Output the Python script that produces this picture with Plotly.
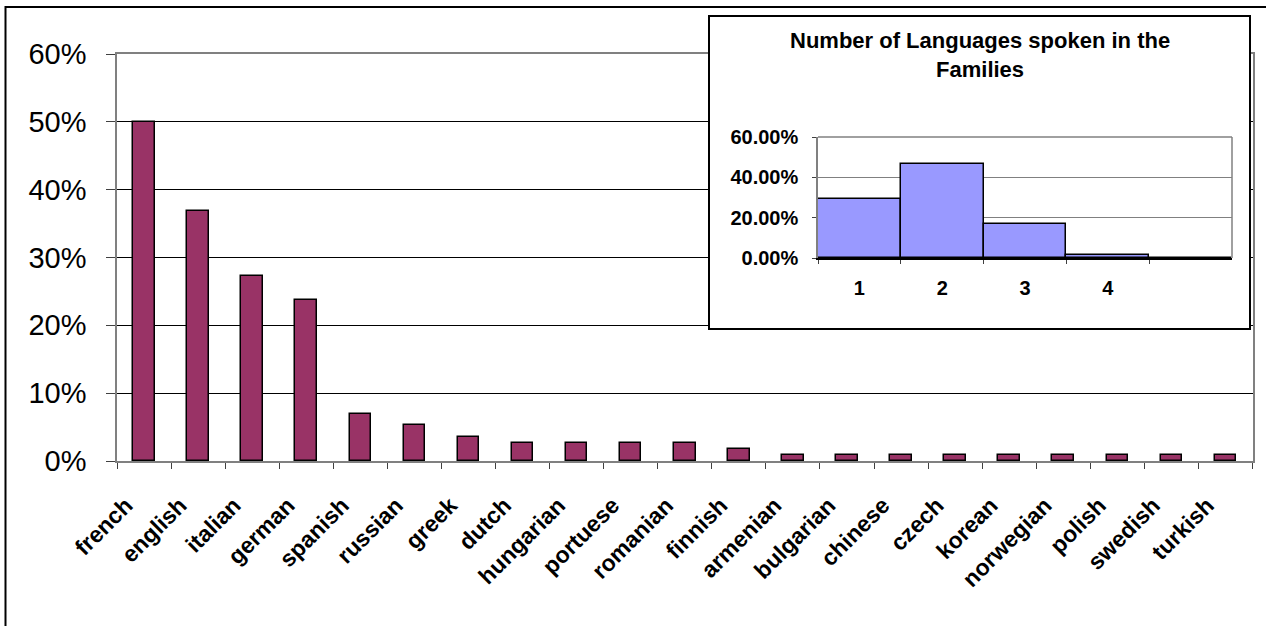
import plotly.graph_objects as go

# ---- main chart data ----
languages = ["french", "english", "italian", "german", "spanish", "russian", "greek",
             "dutch", "hungarian", "portuese", "romanian", "finnish", "armenian",
             "bulgarian", "chinese", "czech", "korean", "norwegian", "polish",
             "swedish", "turkish"]
shares = [0.500, 0.368, 0.272, 0.237, 0.070, 0.053, 0.035, 0.026, 0.026, 0.026,
          0.026, 0.018, 0.009, 0.009, 0.009, 0.009, 0.009, 0.009, 0.009, 0.009, 0.009]
main_yticks = [0, 0.1, 0.2, 0.3, 0.4, 0.5, 0.6]

# ---- inset chart data ----
inset_title = "Number of Languages spoken in the<br>Families"
n_languages = ["1", "2", "3", "4", "5"]
n_labels = ["1", "2", "3", "4", ""]
n_shares = [0.293, 0.466, 0.170, 0.017, 0.0]
inset_yticks = [0, 0.2, 0.4, 0.6]

W, H = 1266, 626
def px(x):
    return x / W
def py(y):
    return 1 - y / H

FONT = "Liberation Sans, Arial, sans-serif"
PAD = "\u00a0" * 4  # shifts rotated labels down-left like the original

fig = go.Figure()

fig.add_trace(go.Bar(
    x=languages, y=shares, width=0.4,
    marker=dict(color="#993366", line=dict(color="black", width=1.5)),
    xaxis="x", yaxis="y", showlegend=False))

# inset frame subplot (covers main gridlines)
fig.add_trace(go.Scatter(x=[], y=[], xaxis="x2", yaxis="y2", showlegend=False,
                         hoverinfo="skip"))

fig.add_trace(go.Bar(
    x=n_languages, y=n_shares, width=1.0,
    marker=dict(color="#9999FF", line=dict(color="black", width=1.5)),
    xaxis="x3", yaxis="y3", showlegend=False))

fig.update_layout(
    template="none",
    width=W, height=H,
    margin=dict(l=0, r=0, t=0, b=0, autoexpand=False),
    paper_bgcolor="white", plot_bgcolor="white",
    font=dict(family=FONT, color="black"),
    xaxis=dict(domain=[px(117), px(1252.5)], type="category", automargin=False,
               tickvals=languages, ticktext=[t + PAD for t in languages],
               showline=True, linecolor="#808080", linewidth=1.5, mirror=True,
               ticks="outside", tickson="boundaries", ticklen=6, tickcolor="#404040",
               ticklabelstandoff=2,
               tickangle=-45, tickfont=dict(size=23, family=FONT, weight="bold"),
               showgrid=False, anchor="y"),
    yaxis=dict(domain=[py(461), py(54)], range=[0, 0.6], tickvals=main_yticks,
               automargin=False,
               tickformat=".0%", showline=True, linecolor="#808080", linewidth=1.5,
               mirror=True, ticks="outside", ticklen=9, tickcolor="#404040",
               ticklabelstandoff=14,
               tickfont=dict(size=29, family=FONT),
               showgrid=True, gridcolor="black", gridwidth=1, zeroline=False,
               anchor="x"),
    xaxis2=dict(domain=[px(710), px(1249)], range=[0, 1], showline=True,
                automargin=False,
                linecolor="black", linewidth=1.5, mirror=True, showgrid=False,
                zeroline=False, showticklabels=False, ticks="", anchor="y2",
                fixedrange=True),
    yaxis2=dict(domain=[py(328), py(17)], range=[0, 1], showline=True,
                automargin=False,
                linecolor="black", linewidth=1.5, mirror=True, showgrid=False,
                zeroline=False, showticklabels=False, ticks="", anchor="x2",
                fixedrange=True),
    xaxis3=dict(domain=[px(818), px(1232)], type="category", automargin=False,
                tickvals=n_languages, ticktext=n_labels,
                showline=True, linecolor="black", linewidth=1.5,
                ticks="outside", tickson="boundaries", ticklen=4, tickcolor="#404040",
                ticklabelstandoff=11,
                tickfont=dict(size=20, family=FONT, weight="bold"),
                showgrid=False, anchor="y3"),
    yaxis3=dict(domain=[py(258), py(137)], range=[0, 0.6], tickvals=inset_yticks,
                automargin=False,
                tickformat=".2%", showline=True, linecolor="#808080", linewidth=1.5,
                ticks="outside", ticklen=4, tickcolor="#404040",
                ticklabelstandoff=10,
                tickfont=dict(size=20, family=FONT, weight="bold"),
                showgrid=True, gridcolor="#808080", gridwidth=1, zeroline=False,
                anchor="x3"),
    bargap=0,
    shapes=[
        # outer chart border (only left and top edges fall inside the picture)
        dict(type="rect", xref="paper", yref="paper",
             x0=px(5.5), x1=1.05, y0=-0.05, y1=py(7),
             line=dict(color="black", width=2), fillcolor="rgba(0,0,0,0)",
             layer="above"),
        # inset plot right/top border in gray
        dict(type="line", xref="paper", yref="paper",
             x0=px(1232), x1=px(1232), y0=py(258), y1=py(137),
             line=dict(color="#808080", width=1.5), layer="above"),
        dict(type="line", xref="paper", yref="paper",
             x0=px(818), x1=px(1232), y0=py(137), y1=py(137),
             line=dict(color="#808080", width=1.5), layer="above"),
    ],
    annotations=[
        dict(text="<b>" + inset_title + "</b>", xref="paper", yref="paper",
             x=px(979.5), y=py(55), xanchor="center", yanchor="middle",
             showarrow=False, font=dict(size=22, family=FONT, color="black"),
             align="center"),
    ],
)

fig.write_html("out.html")
